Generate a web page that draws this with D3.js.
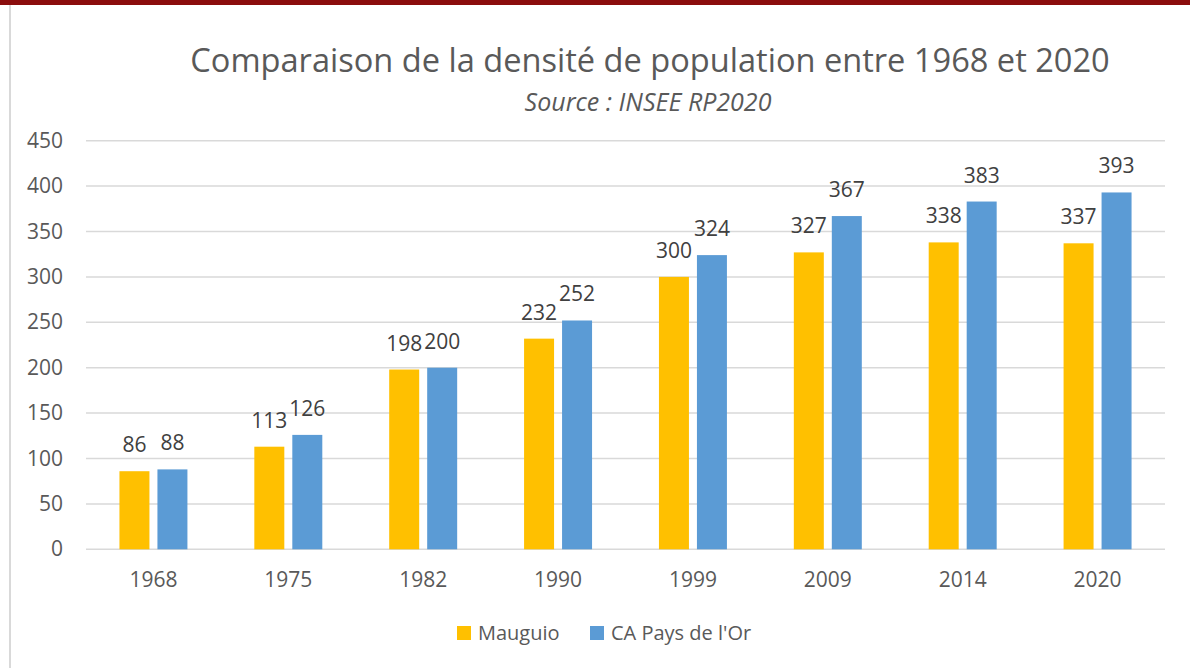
<!DOCTYPE html>
<html>
<head>
<meta charset="utf-8">
<script src="https://cdn.jsdelivr.net/npm/d3@7"></script>
<style>
  body { margin: 0; background: #fff; }
  svg { display: block; font-family: 'Open Sans', sans-serif; }
</style>
</head>
<body>
<div id="chart"></div>
<script>
const years = ['1968', '1975', '1982', '1990', '1999', '2009', '2014', '2020'];
const mauguio = [86, 113, 198, 232, 300, 327, 338, 337];
const paysOr = [88, 126, 200, 252, 324, 367, 383, 393];
const seriesNames = ['Mauguio', "CA Pays de l'Or"];
const colors = ['#FFC000', '#5B9BD5'];
const yTicks = [0, 50, 100, 150, 200, 250, 300, 350, 400, 450];

const W = 1190;
const H = 668;
const plotLeft = 86, plotRight = 1165, plotTop = 140.7, plotBottom = 549.3;

const svg = d3.select('#chart').append('svg')
	.attr('width', W)
	.attr('height', H);

// frame
svg.append('rect')
	.attr('x', 0).attr('y', 0)
	.attr('width', W).attr('height', 5)
	.attr('fill', '#8B0D0D');
svg.append('rect')
	.attr('x', 9).attr('y', 5)
	.attr('width', 2).attr('height', H)
	.attr('fill', '#d9d9d9');

const y = d3.scaleLinear().domain([0, 450]).range([plotBottom, plotTop]);

const x0 = d3.scaleBand()
	.domain(years)
	.range([plotLeft, plotRight])
	.paddingInner(0.496)
	.paddingOuter(0.248);

const x1 = d3.scaleBand()
	.domain(seriesNames)
	.range([0, x0.bandwidth()])
	.paddingInner(8 / 38);

// gridlines
svg.append('g')
	.selectAll('line')
	.data(yTicks)
	.join('line')
	.attr('x1', plotLeft).attr('x2', plotRight)
	.attr('y1', d => y(d)).attr('y2', d => y(d))
	.attr('stroke', '#d9d9d9')
	.attr('stroke-width', 1.5);

// y axis labels
svg.append('g')
	.selectAll('text')
	.data(yTicks)
	.join('text')
	.attr('x', 63)
	.attr('y', d => y(d) + 7)
	.attr('text-anchor', 'end')
	.attr('font-size', 21)
	.attr('fill', '#595959')
	.text(d => d);

// x axis labels
svg.append('g')
	.selectAll('text')
	.data(years)
	.join('text')
	.attr('x', d => x0(d) + x0.bandwidth() / 2)
	.attr('y', 587)
	.attr('text-anchor', 'middle')
	.attr('font-size', 21)
	.attr('fill', '#595959')
	.text(d => d);

const rows = years.map((yr, i) => ({
	year: yr,
	vals: [
		{ name: seriesNames[0], v: mauguio[i], c: colors[0] },
		{ name: seriesNames[1], v: paysOr[i], c: colors[1] }
	]
}));

const groups = svg.append('g')
	.selectAll('g')
	.data(rows)
	.join('g')
	.attr('transform', d => `translate(${x0(d.year)},0)`);

groups.selectAll('rect')
	.data(d => d.vals)
	.join('rect')
	.attr('x', d => x1(d.name))
	.attr('y', d => y(d.v))
	.attr('width', x1.bandwidth())
	.attr('height', d => y(0) - y(d.v))
	.attr('fill', d => d.c);

groups.selectAll('text')
	.data(d => d.vals)
	.join('text')
	.attr('x', d => x1(d.name) + x1.bandwidth() / 2)
	.attr('y', d => y(d.v) - 19)
	.attr('text-anchor', 'middle')
	.attr('font-size', 21)
	.attr('fill', '#404040')
	.text(d => d.v);

// title
svg.append('text')
	.attr('x', 650)
	.attr('y', 72)
	.attr('text-anchor', 'middle')
	.attr('font-size', 32.6)
	.attr('fill', '#595959')
	.text('Comparaison de la densité de population entre 1968 et 2020');

svg.append('text')
	.attr('x', 648)
	.attr('y', 111)
	.attr('text-anchor', 'middle')
	.attr('font-size', 25)
	.attr('font-style', 'italic')
	.attr('fill', '#595959')
	.text('Source : INSEE RP2020');

// legend
const legendX = [457, 590];
const legend = svg.append('g')
	.selectAll('g')
	.data(seriesNames)
	.join('g')
	.attr('transform', (d, i) => `translate(${legendX[i]},626)`);

legend.append('rect')
	.attr('width', 14).attr('height', 14)
	.attr('fill', (d, i) => colors[i]);

legend.append('text')
	.attr('x', 21)
	.attr('y', 14)
	.attr('font-size', 20)
	.attr('fill', '#595959')
	.text(d => d);
</script>
</body>
</html>
